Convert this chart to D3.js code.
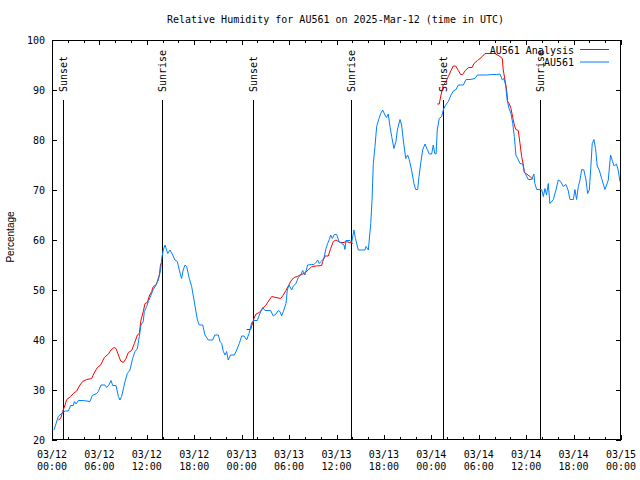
<!DOCTYPE html>
<html><head><meta charset="utf-8">
<script src="https://cdn.jsdelivr.net/npm/d3@7"></script>
<style>
body{margin:0;background:#fff}
svg{display:block}
text{font-family:"DejaVu Sans Mono",monospace;font-size:10px;fill:#000}
</style>
</head><body><svg id="c" width="640" height="480"></svg>
<script>
// ---- data (hours since 2025-03-12 00:00 UTC) ----
const obsHours = [0.25,0.8,1.35,1.65,2.07,2.36,2.7,2.83,3.04,3.33,3.96,4.8,5.1,5.65,5.86,6.2,6.7,6.92,7.2,7.47,7.68,8.1,8.4,8.6,8.8,9.0,9.24,9.53,9.87,10.2,10.5,10.8,11.05,11.26,11.55,11.68,11.98,12.19,12.53,12.82,13.16,13.45,13.75,13.88,14.08,14.3,14.64,14.93,15.27,15.56,15.86,16.1,16.4,16.6,16.83,17.04,17.37,17.67,17.97,18.18,18.4,18.64,19.07,19.36,19.78,20.33,20.6,21.05,21.26,21.47,21.68,21.9,22.1,22.3,22.6,23.07,23.37,23.7,24.0,24.3,24.63,24.93,25.27,25.56,25.98,26.23,26.66,26.95,27.67,28.0,28.34,28.64,28.85,29.06,29.27,29.61,29.77,29.99,30.33,30.53,30.87,31.17,31.47,31.72,32.0,32.35,32.86,33.15,33.4,33.62,33.8,34.12,34.4,34.67,34.88,35.09,35.26,35.47,35.72,36.02,36.32,36.66,36.95,37.07,37.2,37.7,37.92,38.21,38.4,38.76,39.39,39.6,39.73,40.03,40.33,40.49,40.66,40.87,41.08,41.38,41.59,41.84,42.13,42.34,42.55,42.77,42.98,43.27,43.52,43.7,44.03,44.24,44.45,44.76,45.0,45.2,45.5,45.8,46.02,46.27,46.44,46.69,46.9,47.2,47.49,47.74,48.04,48.25,48.43,48.6,48.75,49.0,49.31,49.51,49.73,50.15,50.49,50.78,51.12,51.42,52.05,52.39,52.9,53.53,53.83,55.0,55.64,56.27,56.69,56.98,57.19,57.4,57.6,57.83,58.08,58.3,58.5,58.7,58.93,59.22,59.56,59.77,59.98,60.27,60.69,60.98,61.1,61.33,61.96,62.17,62.38,62.58,62.8,63.0,63.44,63.77,64.06,64.37,64.7,65.03,65.3,65.55,65.97,66.17,66.38,66.6,66.81,67.03,67.3,67.57,67.78,67.99,68.16,68.36,68.57,68.78,68.99,69.24,69.55,69.97,70.18,70.39,70.68,70.93,71.13,71.43,71.64,71.87];
const obsRH = [22,24.7,25.5,25.8,25.8,26.9,26.9,27.7,27.2,27.9,27.9,27.7,28.9,29.3,29.7,31,31,30.5,31,31.9,30.9,30.9,28.7,28,28.7,30,31.7,33.3,34,36.3,37.7,38.3,40.7,43,43.7,45.7,46.7,47.7,49,50.1,51,52,54,56.3,58,59,57.3,58,57,56,55.7,54,52.3,54,55,54.7,52.3,50.7,48,46,44,43,43,41,40,40,41,41,39.7,39.3,37.7,37,37.7,36,37,37,38,39.3,40.8,40.8,40,41.3,43.5,43.9,43.9,45,46.5,45.9,45.9,44.8,45.2,45.9,45.7,44.8,45.7,47.3,50,51,50,50.8,51.3,52.5,53,53.9,53,55,55.1,55.1,55.5,56,55.3,55.8,56.3,58.3,59.3,60.1,61,60.3,61.1,61.1,59.7,59.3,59,58.1,59.9,59.9,59.5,62,60.3,58,58,58,58.7,58,63.3,67.7,75.3,78.7,82.7,84.3,85.3,86,85,84.5,85.2,82.7,80.7,78.3,79.7,82,84.1,83,80,76.3,77,76.1,74,71.3,70.1,70.1,72.7,75.7,78,79.2,78.1,77.2,77.2,79,77.3,77.2,82,84.3,84.7,86,86.8,87.7,89,89.8,90.1,91,91,92.1,92.1,92.3,93,93,93.1,93.1,93.2,92,92.3,91,88,86.3,85.3,83.3,80.7,77,76.3,75.3,75.2,73.7,73,72.1,72.1,73.2,71.3,70.1,70.1,68.7,70.3,69,71.3,67.3,68.1,70,72,71.7,70.7,71.1,70,68.1,68.1,70.1,68.1,70.7,72,74.1,74,72,69.3,70,74,79.3,80.1,78.3,74.8,74,72.3,70.1,71,72,77,75.7,74.8,75.2,74,71.7];

// analysis series; null separates the three runs
const anaHours = [0.8,1.1,1.35,1.65,1.86,2.36,2.7,3.12,3.54,3.88,4.39,5.02,5.31,5.74,6.16,6.62,7.13,7.47,7.85,8.1,8.4,8.69,9.03,9.36,9.66,10.08,10.42,10.8,11.05,11.26,11.55,11.77,12.06,12.31,12.61,12.82,13.16,13.33,13.58,13.75,
 null,
 24.63,25.14,25.56,25.81,26.23,26.5,27.08,27.5,27.8,28.34,28.94,29.27,29.6,29.9,30.24,30.62,31.04,31.38,31.89,32.43,32.86,33.49,34.12,34.25,34.54,34.96,35.26,35.6,35.94,36.23,36.53,36.95,37.2,37.7,38.05,
 null,
 48.75,49.0,49.22,49.51,49.85,50.15,50.49,50.78,51.08,51.42,51.71,51.96,52.3,52.72,53.14,53.4,53.83,54.16,54.45,54.79,56.05,56.69,56.98,57.1,57.32,57.53,57.66,57.87,58.08,58.3,58.5,58.7,59.0,59.22,59.43,59.64,59.77,60.06,60.48,60.9];
const anaRH = [24,24.3,25.7,27,28.1,28.7,29.3,29.8,31,31.7,32.1,32.3,33.3,34.5,35,36.5,37.2,38,38.5,38.3,37,35.8,35.5,36.3,37.5,37.9,39.3,41,41.3,44,45.7,47.3,47.5,48.8,49.7,50.7,51,51.7,53,55.3,
 null,
 42.1,42.1,44.3,45.2,45.5,46,47,48,48.7,48.5,48.3,49,49.9,50.8,51.8,52.5,52.7,53,53.3,54,54.7,54.8,54.9,55.7,56.8,56.8,58.3,59.7,60,59.7,59.5,59.5,59.7,59.5,59.3,
 null,
 87.2,87.2,89,91,91.7,92.7,93.9,94.8,94.8,93.9,93.1,93.1,93.9,94.5,94.5,95.3,95.9,96.3,96.7,97.3,97.3,96.7,96.3,94,92,90,87.7,87.2,86.3,84.5,83,82.1,81.9,79.3,76.7,75,73.5,73.2,72.7,72.1];

const sunHours = [1.43,13.88,25.47,37.79,49.51,61.79];
const sunLabels = ["Sunset","Sunrise","Sunset","Sunrise","Sunset","Sunrise"];
const sunLineTop = 88;

const yTicks = [20,30,40,50,60,70,80,90,100];
const xMajorHours = [0,6,12,18,24,30,36,42,48,54,60,66,72];
const xMinorHours = d3.range(0,73,2);
const seriesNames = ["AU561 Analysis","AU561"];
const seriesColors = ["#ff0000","#0080ff"];
const titleText = "Relative Humidity for AU561 on 2025-Mar-12 (time in UTC)";
const yLabelText = "Percentage";

// ---- drawing ----
const base = Date.UTC(2025,2,12);
const toDate = h => new Date(base + h*3600e3);
const L=52, R=621, T=40, B=440;
const x = d3.scaleUtc().domain([toDate(0), toDate(72)]).range([L,R]);
const y = d3.scaleLinear().domain([20,100]).range([B,T]);
const svg = d3.select("#c");

svg.append("text").attr("x",335.5).attr("y",23).attr("text-anchor","middle").text(titleText);

// axes ticks
const axB = d3.axisBottom(x).tickValues(xMajorHours.map(toDate)).tickSize(-5).tickFormat("");
const axT = d3.axisTop(x).tickValues(xMajorHours.map(toDate)).tickSize(-5).tickFormat("");
const axBm = d3.axisBottom(x).tickValues(xMinorHours.map(toDate)).tickSize(-3).tickFormat("");
const axTm = d3.axisTop(x).tickValues(xMinorHours.map(toDate)).tickSize(-3).tickFormat("");
const axL = d3.axisLeft(y).tickValues(yTicks).tickSize(-5).tickFormat("");
const axR = d3.axisRight(y).tickValues(yTicks).tickSize(-5).tickFormat("");
[[axBm,`translate(0,${B})`],[axTm,`translate(0,${T})`],[axB,`translate(0,${B})`],[axT,`translate(0,${T})`],[axL,`translate(${L},0)`],[axR,`translate(${R},0)`]]
 .forEach(([a,t])=>{const g=svg.append("g").attr("transform",t).call(a);
   g.select(".domain").remove(); g.selectAll("line").attr("stroke","#000").attr("shape-rendering","crispEdges");});

// y tick labels
svg.append("g").selectAll("text").data(yTicks).join("text")
  .attr("x",45).attr("y",d=>y(d)+3.5).attr("text-anchor","end").text(d=>d);

// x tick labels
const f1 = d3.utcFormat("%m/%d"), f2 = d3.utcFormat("%H:%M");
const xl = svg.append("g").selectAll("text").data(xMajorHours).join("text")
  .attr("text-anchor","middle");
xl.append("tspan").attr("x",h=>x(toDate(h))).attr("y",458).text(h=>f1(toDate(h)));
xl.append("tspan").attr("x",h=>x(toDate(h))).attr("y",470).text(h=>f2(toDate(h)));

// y label
svg.append("text").attr("transform","translate(14,237) rotate(-90)").attr("text-anchor","middle")
  .style("font-family","'Liberation Sans',Arial,sans-serif").text(yLabelText);

// sunrise/sunset lines
const sg = svg.append("g");
sunHours.forEach((h,i)=>{
  const xx = Math.round(x(toDate(h)))+0.5;
  sg.append("line").attr("x1",xx).attr("x2",xx).attr("y1",y(sunLineTop)).attr("y2",B)
    .attr("stroke","#000").attr("shape-rendering","crispEdges");
  sg.append("text").attr("transform",`translate(${xx+3.5},92) rotate(-90)`).text(sunLabels[i]);
});

// series
const anaData = anaHours.map((h,i)=>({h,v:anaRH[i]}));
const obsData = obsHours.map((h,i)=>({h,v:obsRH[i]}));
const line = d3.line().defined(d=>d.h!==null && d.v!==null).x(d=>x(toDate(d.h))).y(d=>y(d.v));
svg.append("path").datum(anaData).attr("d",line).attr("fill","none").attr("stroke",seriesColors[0]).attr("stroke-width",1);
svg.append("path").datum(obsData).attr("d",line).attr("fill","none").attr("stroke",seriesColors[1]).attr("stroke-width",1);

// frame
svg.append("rect").attr("x",L+0.5).attr("y",T+0.5).attr("width",R-L-1).attr("height",B-T-1)
  .attr("fill","none").attr("stroke","#000").attr("shape-rendering","crispEdges");

// legend
const lg = svg.append("g");
seriesNames.forEach((n,i)=>{
  const yy = 49.5 + i*12.5;
  lg.append("text").attr("x",574).attr("y",yy+4).attr("text-anchor","end").text(n);
  lg.append("line").attr("x1",580).attr("x2",609).attr("y1",yy).attr("y2",yy)
    .attr("stroke",seriesColors[i]).attr("stroke-width",1);
});
</script>
</body></html>
